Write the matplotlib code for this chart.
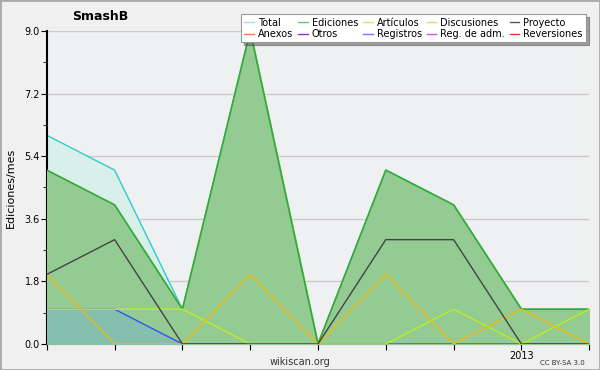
import matplotlib.pyplot as plt
import numpy as np

# monthly edits, 9 months
months = list(range(9))
total = [6, 5, 1, 9, 0, 5, 4, 1, 1]
ediciones = [5, 4, 1, 9, 0, 5, 4, 1, 1]
articulos = [1, 1, 1, 0, 0, 0, 1, 0, 1]
discusiones = [2, 0, 0, 2, 0, 2, 0, 1, 0]
proyecto = [2, 3, 0, 0, 0, 3, 3, 0, 0]
registros = [1, 1, 0, 0, 0, 0, 0, 0, 0]
tick_labels = ["", "", "", "", "", "", "", "2013", ""]

fig = plt.figure(figsize=(6, 3.7), dpi=100)
fig.patch.set_facecolor("#f0f0f0")
fig.patches.append(plt.Rectangle((0, 0), 1, 1, transform=fig.transFigure,
                                 fill=False, edgecolor="#aaaaaa", lw=2))
ax = fig.add_axes([0.078, 0.0703, 0.904, 0.846])
ax.set_facecolor("#eff0f2")

ax.fill_between(months, total, color="#d8efea", zorder=1)
ax.plot(months, total, color="#33cccc", lw=1, zorder=2)
ax.fill_between(months, ediciones, color="#93cb93", zorder=3)
ax.plot(months, ediciones, color="#33aa33", lw=1.2, zorder=4)
ax.fill_between(months, registros, color="#66aadd", alpha=0.35, lw=0, zorder=4)
ax.plot(months, registros, color="#3355ee", lw=1, zorder=5)
ax.plot(months, articulos, color="#bbee22", lw=1, zorder=5)
ax.plot(months, discusiones, color="#eebb11", lw=1, zorder=5)
ax.plot(months, proyecto, color="#444444", lw=1, zorder=6)

ax.set_xlim(0, 8)
ax.set_ylim(0, 9)
ax.set_yticks(np.arange(0, 9.01, 1.8))
ax.set_yticks(np.arange(0, 9.01, 0.9), minor=True)
ax.yaxis.set_major_formatter(plt.FormatStrFormatter("%.1f"))
ax.set_xticks(months)
ax.set_xticklabels(tick_labels)
ax.tick_params(axis="both", labelsize=7, colors="black", length=4, pad=1)
ax.tick_params(axis="y", which="minor", length=3)
ax.grid(axis="y", color="#cccccc", lw=1, zorder=0)
ax.set_axisbelow(True)
for s in ["top", "right"]:
    ax.spines[s].set_visible(False)
ax.spines["left"].set_linewidth(1.5)
ax.spines["bottom"].set_linewidth(1.5)
ax.set_ylabel("Ediciones/mes", fontsize=8, labelpad=6)

fig.text(0.167, 0.955, "SmashB", fontsize=9, fontweight="bold", ha="center", va="center")
fig.text(0.5, 0.022, "wikiscan.org", fontsize=7, ha="center", va="center", color="#333333")
fig.text(0.975, 0.018, "CC BY-SA 3.0", fontsize=5, ha="right", va="center", color="#333333")

leg_names = ["Total", "Anexos", "Ediciones", "Otros", "Artículos", "Registros",
             "Discusiones", "Reg. de adm.", "Proyecto", "Reversiones"]
leg_colors = ["#aadddd", "#ff7744", "#66cc66", "#8833dd", "#ccee55", "#7777ff",
              "#ffcc55", "#dd55dd", "#555555", "#ee3333"]
handles = [plt.Line2D([], [], color=c, lw=1) for c in leg_colors]
leg = fig.legend(handles, leg_names, ncol=5, loc="upper right",
                 bbox_to_anchor=(0.985, 0.975), fontsize=7, frameon=True,
                 fancybox=False, shadow=True, handlelength=1.0, handletextpad=0.4,
                 columnspacing=0.5, labelspacing=0.15, borderpad=0.35)
leg.get_frame().set_edgecolor("#999999")
leg.get_frame().set_linewidth(0.8)

fig.savefig("out.png", dpi=100, facecolor=fig.get_facecolor())
